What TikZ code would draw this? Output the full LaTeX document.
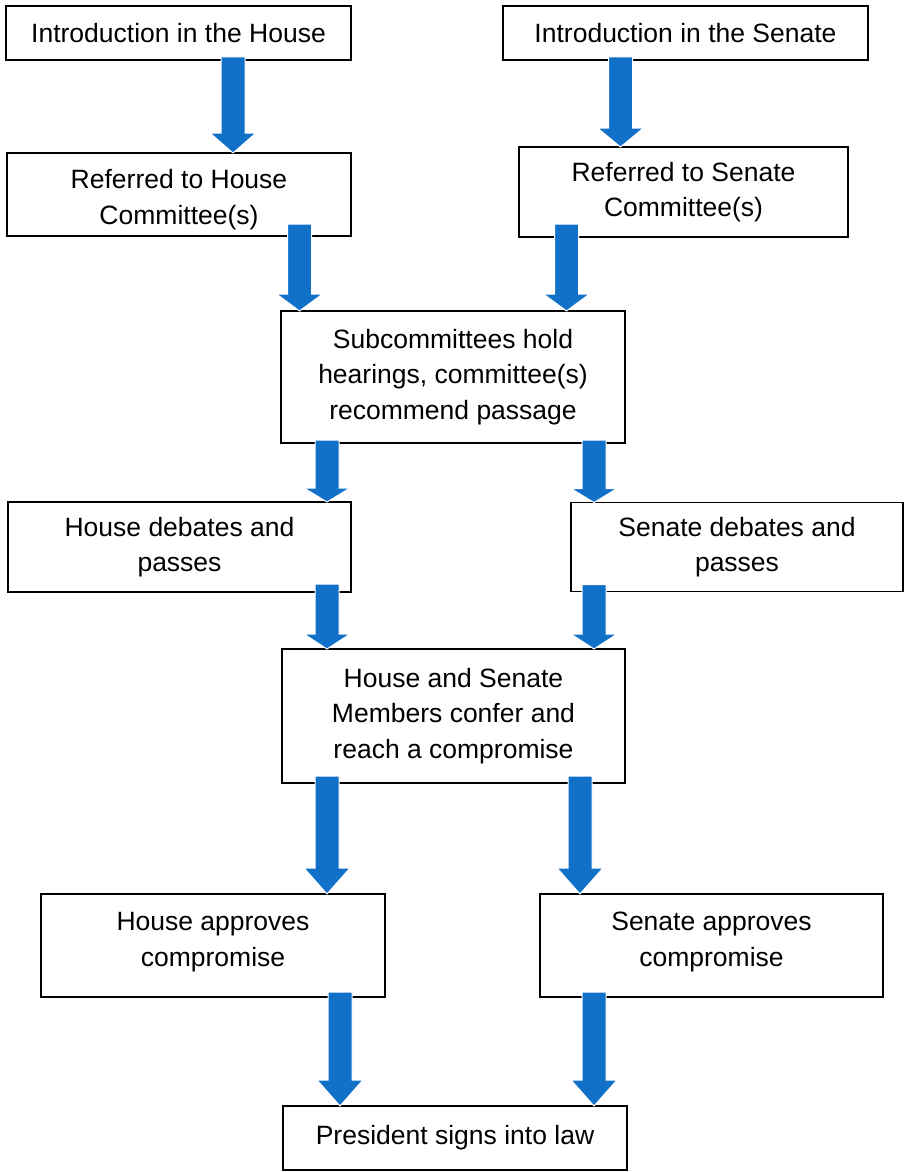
\documentclass[tikz,border=0pt]{standalone}
\usepackage{fontspec}
\setmainfont{Liberation Sans}
\usetikzlibrary{calc}
\definecolor{arrowblue}{RGB}{17,112,200}
\tikzset{
  flowbox/.style={draw=black, line width=1.6pt, fill=white, inner sep=0pt, outer sep=0pt,
    align=center, font=\fontsize{26.5}{35.7}\selectfont},
  blockarrow/.style={fill=arrowblue, draw=white, line width=1pt},
}
% #1 x centre, #2 from node, #3 to node, #4 head length, #5 overlap into source box
\newcommand\flowarrow[5]{%
  \path[blockarrow] let \p1=(#2.south), \p2=(#3.north) in
    (#1pt-12pt, \y1+#5pt) -- (#1pt+12pt, \y1+#5pt) -- (#1pt+12pt, \y2+#4pt)
    -- (#1pt+23pt, \y2+#4pt) -- (#1pt, \y2) -- (#1pt-23pt, \y2+#4pt)
    -- (#1pt-12pt, \y2+#4pt) -- cycle;}
\begin{document}
\begin{tikzpicture}[x=1pt, y=-1pt]
\useasboundingbox (0,0) rectangle (909,1172);
\node[flowbox, minimum width=345pt, minimum height=54pt] (ih) at (178.5,33) {Introduction in the House};
\node[flowbox, minimum width=344pt, minimum height=83pt] (rh) at (179,194.5) {\rule{0pt}{29pt}Referred to House\\Committee(s)};
\node[flowbox, minimum width=365pt, minimum height=54pt] (is) at (685.5,33) {Introduction in the Senate};
\node[flowbox, minimum width=329pt, minimum height=90pt] (rs) at (683.5,192) {Referred to Senate\\Committee(s)};
\node[flowbox, minimum width=344pt, minimum height=132pt] (sub) at (453,377) {Subcommittees hold\\hearings, committee(s)\\recommend passage};
\node[flowbox, minimum width=343pt, minimum height=90pt] (hd) at (179.5,547) {House debates and\\passes};
\node[flowbox, minimum width=332pt, minimum height=89pt] (sd) at (737,547) {Senate debates and\\passes};
\node[flowbox, minimum width=343pt, minimum height=134pt] (conf) at (453.5,716) {House and Senate\\Members confer and\\reach a compromise};
\node[flowbox, minimum width=344pt, minimum height=103pt] (ha) at (213,945.5) {House approves\\compromise\rule[-12pt]{0pt}{0pt}};
\node[flowbox, minimum width=343pt, minimum height=103pt] (sa) at (711.5,945.5) {Senate approves\\compromise\rule[-12pt]{0pt}{0pt}};
\node[flowbox, minimum width=344pt, minimum height=64pt] (pres) at (455,1138) {President signs into law};

\flowarrow{233}{ih}{rh}{20}{3}
\flowarrow{620.5}{is}{rs}{19}{3}
\flowarrow{299.5}{rh}{sub}{17}{12}
\flowarrow{566.5}{rs}{sub}{17}{13}
\flowarrow{327}{sub}{hd}{14}{3}
\flowarrow{594}{sub}{sd}{14}{3}
\flowarrow{327}{hd}{conf}{15}{8}
\flowarrow{594}{sd}{conf}{15}{7}
\flowarrow{327}{conf}{ha}{26}{7}
\flowarrow{580}{conf}{sa}{26}{7}
\flowarrow{340}{ha}{pres}{26}{5}
\flowarrow{594}{sa}{pres}{26}{5}
\end{tikzpicture}
\end{document}
